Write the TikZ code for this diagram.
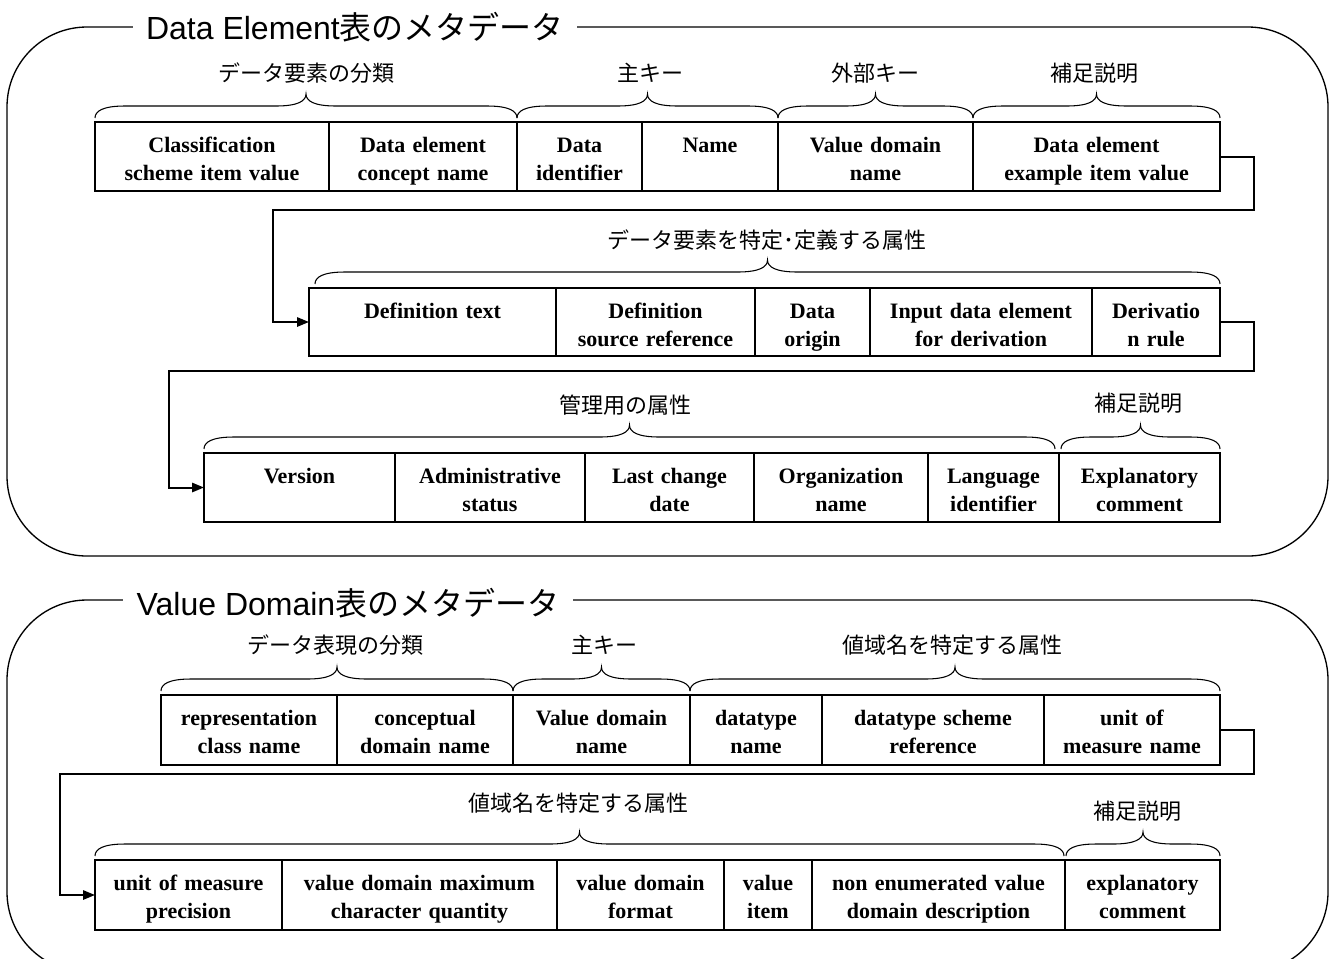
\documentclass[tikz,border=0pt]{standalone}
\usepackage{fontspec}
\usetikzlibrary{arrows.meta}
\newfontfamily\jpfont{Noto Sans CJK JP}
\newfontfamily\titlesans{Liberation Sans}
\newfontfamily\cellserif{Liberation Serif}
\tikzset{
  frame/.style={draw, line width=1pt, rounded corners=60pt},
  titlelab/.style={fill=white, inner xsep=10pt, inner ysep=2pt, font=\fontsize{24pt}{28pt}\selectfont},
  cellbox/.style={draw, line width=0.9pt, inner sep=0pt, outer sep=0pt, align=center,
    anchor=north west, text height=22.5pt,
    font=\cellserif\bfseries\fontsize{16.5pt}{21pt}\selectfont},
  rowborder/.style={line width=1.8pt},
  bracelab/.style={font=\jpfont\fontsize{16.5pt}{18pt}\selectfont, inner sep=1pt},
  bracestyle/.style={line width=0.8pt},
  link/.style={line width=1.5pt, -{Triangle[length=9pt,width=7pt]}}
}
\newcommand\hbr[3]{%
  \pgfmathsetmacro\bm{(#1+#2)/2}%
  \draw[bracestyle] (#1,#3) .. controls (#1,#3-7) and (#1+8,#3-12) .. (#1+30,#3-12)
    -- (\bm-30,#3-12) .. controls (\bm-8,#3-12) and (\bm,#3-17) .. (\bm,#3-24)
    .. controls (\bm,#3-17) and (\bm+8,#3-12) .. (\bm+30,#3-12)
    -- (#2-30,#3-12) .. controls (#2-8,#3-12) and (#2,#3-7) .. (#2,#3);
}
\begin{document}
\begin{tikzpicture}[x=0.75pt,y=-0.75pt]
\clip (0,0) rectangle (1335,958);
\fill[white] (0,0) rectangle (1335,958);

% ---------- Section 1 ----------
\draw[frame] (7,27) rectangle (1328,556);
\node[titlelab] (t1) at (355,27) {{\titlesans Data Element}{\jpfont 表のメタデータ}};

% row 1
\node[cellbox, text depth=29.25pt, text width=175.5pt] (r1a) at (95,122) {Classification\\scheme item value};
\node[cellbox, text depth=29.25pt, text width=141pt] (r1b) at (r1a.north east) {Data element\\concept name};
\node[cellbox, text depth=29.25pt, text width=93.75pt] (r1c) at (r1b.north east) {Data\\identifier};
\node[cellbox, text depth=29.25pt, text width=102pt] (r1d) at (r1c.north east) {Name};
\node[cellbox, text depth=29.25pt, text width=146.25pt] (r1e) at (r1d.north east) {Value domain\\name};
\node[cellbox, text depth=29.25pt, text width=185.25pt] (r1f) at (r1e.north east) {Data element\\example item value};
\draw[rowborder] (r1a.north west) rectangle (r1f.south east);

\hbr{95}{517}{118}
\hbr{517}{778}{118}
\hbr{778}{973}{118}
\hbr{973}{1220}{118}
\node[bracelab] (l1a) at (306,73) {データ要素の分類};
\node[bracelab] (l1b) at (650,73) {主キー};
\node[bracelab] (l1c) at (875,73) {外部キー};
\node[bracelab] (l1d) at (1094,73) {補足説明};

% row 2
\node[cellbox, text depth=28.5pt, text width=185.25pt] (r2a) at (309,288) {Definition text};
\node[cellbox, text depth=28.5pt, text width=149.25pt] (r2b) at (r2a.north east) {Definition\\source reference};
\node[cellbox, text depth=28.5pt, text width=86.25pt] (r2c) at (r2b.north east) {Data\\origin};
\node[cellbox, text depth=28.5pt, text width=166.5pt] (r2d) at (r2c.north east) {Input data element\\for derivation};
\node[cellbox, text depth=28.5pt, text width=96pt] (r2e) at (r2d.north east) {Derivatio\\n rule};
\draw[rowborder] (r2a.north west) rectangle (r2e.south east);

\hbr{315}{1220}{284}
\node[bracelab] (l2a) at (767,240) {データ要素を特定･定義する属性};

% row 3
\node[cellbox, text depth=29.25pt, text width=143.25pt] (r3a) at (204,453) {Version};
\node[cellbox, text depth=29.25pt, text width=142.5pt] (r3b) at (r3a.north east) {Administrative\\status};
\node[cellbox, text depth=29.25pt, text width=126.75pt] (r3c) at (r3b.north east) {Last change\\date};
\node[cellbox, text depth=29.25pt, text width=130.5pt] (r3d) at (r3c.north east) {Organization\\name};
\node[cellbox, text depth=29.25pt, text width=98.25pt] (r3e) at (r3d.north east) {Language\\identifier};
\node[cellbox, text depth=29.25pt, text width=120.75pt] (r3f) at (r3e.north east) {Explanatory\\comment};
\draw[rowborder] (r3a.north west) rectangle (r3f.south east);

\hbr{204}{1055}{449}
\hbr{1061}{1220}{449}
\node[bracelab] (l3a) at (625,405) {管理用の属性};
\node[bracelab] (l3b) at (1138,403) {補足説明};

% connectors section 1
\coordinate (k1) at (1254,210);
\coordinate (k1b) at (273,210);
\draw[link] (r1f.east) -| (k1) -- (k1b) |- (r2a.west);
\coordinate (k2) at (1254,371);
\coordinate (k2b) at (169,371);
\draw[link] (r2e.east) -| (k2) -- (k2b) |- (r3a.west);

% ---------- Section 2 ----------
\draw[frame] (7,600) rectangle (1328,972);
\node[titlelab] (t2) at (348,603) {{\titlesans Value Domain}{\jpfont 表のメタデータ}};

% row 4
\node[cellbox, text depth=30pt, text width=132pt] (r4a) at (161,695) {representation\\class name};
\node[cellbox, text depth=30pt, text width=132pt] (r4b) at (r4a.north east) {conceptual\\domain name};
\node[cellbox, text depth=30pt, text width=132.75pt] (r4c) at (r4b.north east) {Value domain\\name};
\node[cellbox, text depth=30pt, text width=99pt] (r4d) at (r4c.north east) {datatype\\name};
\node[cellbox, text depth=30pt, text width=166.5pt] (r4e) at (r4d.north east) {datatype scheme\\reference};
\node[cellbox, text depth=30pt, text width=132pt] (r4f) at (r4e.north east) {unit of\\measure name};
\draw[rowborder] (r4a.north west) rectangle (r4f.south east);

\hbr{161}{513}{691}
\hbr{513}{690}{691}
\hbr{690}{1220}{691}
\node[bracelab] (l4a) at (335,645) {データ表現の分類};
\node[bracelab] (l4b) at (604,645) {主キー};
\node[bracelab] (l4c) at (952,645) {値域名を特定する属性};

% row 5
\node[cellbox, text depth=30pt, text width=140.25pt] (r5a) at (95,860) {unit of measure\\precision};
\node[cellbox, text depth=30pt, text width=206.25pt] (r5b) at (r5a.north east) {value domain maximum\\character quantity};
\node[cellbox, text depth=30pt, text width=125.25pt] (r5c) at (r5b.north east) {value domain\\format};
\node[cellbox, text depth=30pt, text width=66pt] (r5d) at (r5c.north east) {value\\item};
\node[cellbox, text depth=30pt, text width=189.75pt] (r5e) at (r5d.north east) {non enumerated value\\domain description};
\node[cellbox, text depth=30pt, text width=116.25pt] (r5f) at (r5e.north east) {explanatory\\comment};
\draw[rowborder] (r5a.north west) rectangle (r5f.south east);

\hbr{95}{1064}{856}
\hbr{1066}{1220}{856}
\node[bracelab] (l5a) at (578,803) {値域名を特定する属性};
\node[bracelab] (l5b) at (1137,811) {補足説明};

% connector section 2
\coordinate (k3) at (1254,774);
\coordinate (k3b) at (60,774);
\draw[link] (r4f.east) -| (k3) -- (k3b) |- (r5a.west);
\end{tikzpicture}
\end{document}
